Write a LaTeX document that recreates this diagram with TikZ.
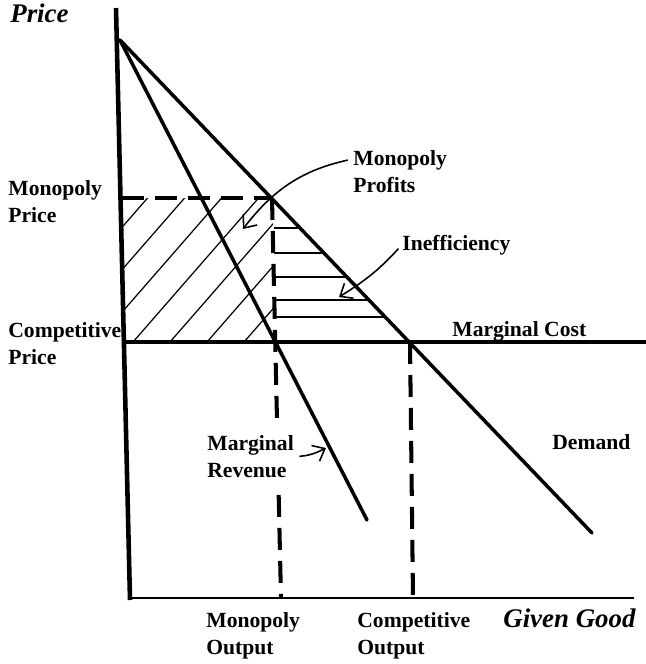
\documentclass[tikz,border=0pt]{standalone}
\usepackage{fontspec}
\setmainfont{Liberation Serif}
\usetikzlibrary{arrows.meta}

\begin{document}
\begin{tikzpicture}[x=0.02cm, y=-0.02cm,
  lbl/.style={inner sep=0pt, align=left, font=\fontsize{12.3}{15.5}\selectfont\bfseries},
  axlbl/.style={inner sep=0pt, font=\fontsize{15.3}{18}\selectfont\bfseries\itshape},
  curve/.style={line width=2pt, line cap=round},
  dashln/.style={line width=2.3pt, dash pattern=on 0.44cm off 0.22cm},
  hatch/.style={line width=0.7pt},
  pointer/.style={line width=0.9pt, -{Straight Barb[length=6pt, width=10pt]}, shorten <=3pt}]

  \useasboundingbox (0,0) rectangle (646,664);

  % Key points
  \coordinate (apex) at (120,40);
  \coordinate (dend) at (592,533);
  \coordinate (mrend) at (367,520);
  \coordinate (mp) at (272,198);
  \coordinate (cp) at (410,342);

  % Hatched profit area
  \begin{scope}
    \clip (122,198) rectangle (273,342);
    \foreach \i in {0,...,6}
      \draw[hatch] ({22+37*\i},342) -- ++(150,-172);
  \end{scope}
  % Deadweight loss lines
  \foreach \y in {228,253,277,300,317} {
    \pgfmathsetmacro{\xe}{120+(\y-40)/1.045}
    \draw[hatch] (274,\y) -- (\xe,\y);
  }

  % Axes
  \draw[line width=2.6pt] (116,8) -- (130,600);
  \draw[line width=1.5pt] (129,598) -- (634,598);
  % Marginal cost
  \draw[line width=2.3pt] (124,342) -- (646,342);
  % Demand and marginal revenue
  \draw[curve] (apex) -- (dend);
  \draw[curve] (apex) -- (mrend);
  % Price and output levels
  \draw[dashln] (122,198) -- (mp);
  \draw[dashln] (mp) -- (281,598);
  \draw[dashln] (cp) -- (413,598);

  % Axis labels
  \node[axlbl, anchor=base west] (price) at (10,22) {Price};
  \node[axlbl, anchor=base west] (good) at (503,627) {Given Good};
  % Curve and level labels
  \node[lbl, anchor=north west] (mprice) at (8,180) {Monopoly\\Price};
  \node[lbl, anchor=north west] (cprice) at (8,322) {Competitive\\Price};
  \node[lbl, anchor=north west] (profits) at (353,150) {Monopoly\\Profits};
  \node[lbl, anchor=base west] (ineff) at (402,250) {Inefficiency};
  \node[lbl, anchor=base west] (mcost) at (452,336) {Marginal Cost};
  \node[lbl, anchor=base west] (demand) at (552,449) {Demand};
  \node[lbl, fill=white, inner ysep=4pt, anchor=north west] (mr) at (207,428) {Marginal\\Revenue};
  \node[lbl, anchor=north west] (mout) at (206,612) {Monopoly\\Output};
  \node[lbl, anchor=north west] (cout) at (357,612) {Competitive\\Output};

  % Pointers
  \coordinate (profitstip) at (243,229);
  \coordinate (inefftip) at (339,297);
  \coordinate (mrtip) at (326,448);
  \draw[pointer] (profits.165) to[bend right=20] (profitstip);
  \draw[pointer] (ineff.west) to[bend left=8] (inefftip);
  \draw[pointer] (mr.east) to[bend right=12] (mrtip);

\end{tikzpicture}
\end{document}
